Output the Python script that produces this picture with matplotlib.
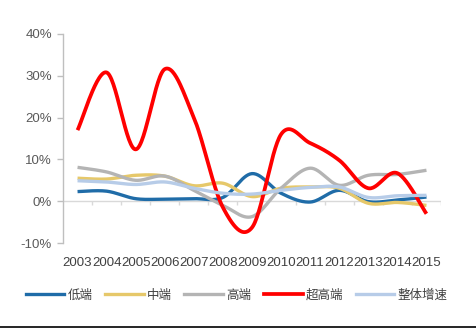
import numpy as np
import matplotlib
matplotlib.use("Agg")
import matplotlib.pyplot as plt
from matplotlib.lines import Line2D

years = ["2003", "2004", "2005", "2006", "2007", "2008", "2009", "2010",
         "2011", "2012", "2013", "2014", "2015"]
low_end = [2.3, 2.4, 0.6, 0.5, 0.6, 0.9, 6.6, 1.9, -0.2, 2.6, -0.1, 0.3, 1.0]
mid_end = [5.5, 5.3, 6.2, 6.0, 3.7, 4.3, 1.1, 3.1, 3.4, 3.1, -0.5, -0.3, -1.0]
high_end = [8.1, 7.0, 5.0, 6.0, 2.6, -1.0, -3.7, 3.1, 7.9, 3.8, 6.2, 6.4, 7.4]
ultra_high = [17.0, 30.8, 12.4, 31.6, 20.0, -1.5, -6.3, 16.0, 13.9, 9.8, 3.1, 6.7, -3.0]
overall = [4.9, 4.6, 4.0, 4.6, 3.1, 1.9, 1.7, 2.6, 3.3, 3.4, 0.9, 1.3, 1.4]

series_names = ["低端", "中端", "高端", "超高端", "整体增速"]
series_vals = [low_end, mid_end, high_end, ultra_high, overall]
colors = ["#1F6CA8", "#E6C86A", "#B4B4B4", "#FF0000", "#B7CCE8"]
widths = [2.4, 2.4, 2.4, 2.7, 2.4]


def smooth(y, n=30):
    y = np.asarray(y, dtype=float)
    x = np.arange(len(y), dtype=float)
    P = np.column_stack([x, y])
    out = []
    for i in range(len(P) - 1):
        p0 = P[i - 1] if i > 0 else P[i]
        p1 = P[i]
        p2 = P[i + 1]
        p3 = P[i + 2] if i + 2 < len(P) else P[i + 1]
        b1 = p1 + (p2 - p0) / 6.0
        b2 = p2 - (p3 - p1) / 6.0
        t = np.linspace(0, 1, n, endpoint=(i == len(P) - 2))[:, None]
        seg = ((1 - t) ** 3) * p1 + 3 * ((1 - t) ** 2) * t * b1 + 3 * (1 - t) * t ** 2 * b2 + t ** 3 * p2
        out.append(seg)
    out = np.vstack(out)
    return out[:, 0], out[:, 1]


plt.rcParams['font.family'] = ['Liberation Sans', 'Noto Sans CJK SC', 'DejaVu Sans']

fig = plt.figure(figsize=(4.76, 3.31), dpi=100)
ax = fig.add_axes([63 / 476, 1 - 243 / 331, (441 - 63) / 476, (243 - 34) / 331])

ax.axhline(0, color="#D9D9D9", lw=1.0, zorder=1)
ax.vlines(np.arange(0.5, 13, 1.0), -0.95, 0, color="#D9D9D9", lw=1.0, zorder=1)

for name, vals, c, w in zip(series_names, series_vals, colors, widths):
    xs, ys = smooth(vals)
    ax.plot(xs, ys, color=c, lw=w, solid_capstyle="butt", label=name, zorder=3)

ax.set_xlim(-0.5, 12.5)
ax.set_ylim(-10, 40)
ax.set_yticks([-10, 0, 10, 20, 30, 40])
ax.set_yticklabels(["-10%", "0%", "10%", "20%", "30%", "40%"])
ax.set_xticks(range(len(years)))
ax.set_xticklabels(years)

for s in ["top", "right", "bottom"]:
    ax.spines[s].set_visible(False)
ax.spines["left"].set_color("#BFBFBF")
ax.spines["left"].set_linewidth(1.0)

ax.tick_params(axis="y", direction="out", length=4, width=1.0, color="#BFBFBF",
               labelsize=9.5, labelcolor="#595959", pad=4)
ax.tick_params(axis="x", length=0, labelsize=9.5, labelcolor="#404040", pad=10)

handles = [Line2D([0], [0], color=c, lw=w) for c, w in zip(colors, widths)]
leg = fig.legend(handles, series_names, loc="center", bbox_to_anchor=(0.497, 1 - 295 / 331),
                 ncol=5, frameon=False, handlelength=3.1, handletextpad=0.25,
                 columnspacing=1.0, prop={"family": ["Noto Sans CJK SC"], "size": 9})
for t in leg.get_texts():
    t.set_color("#404040")

fig.add_artist(Line2D([0, 1], [1 - 327 / 331, 1 - 327 / 331], color="black", lw=1.2,
                      transform=fig.transFigure))

fig.savefig("out.png", dpi=100)
